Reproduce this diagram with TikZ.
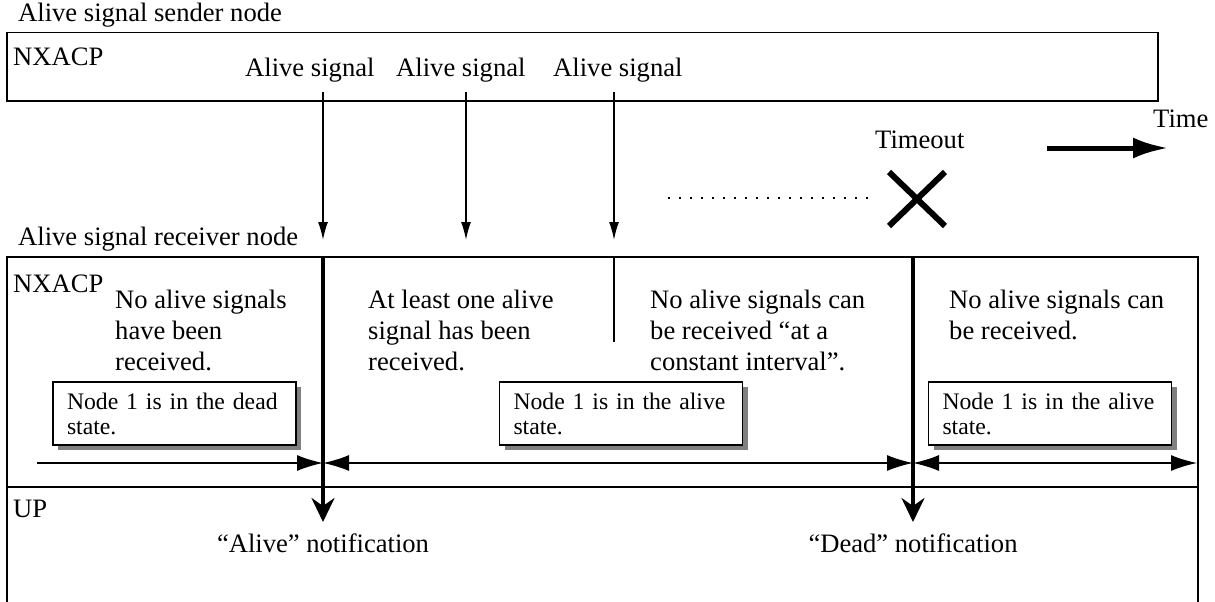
\documentclass[tikz,border=0pt]{standalone}
\usepackage{fontspec}
\setmainfont{Liberation Serif}
\usetikzlibrary{arrows.meta,positioning,shadows,shapes.misc}

\begin{document}
\begin{tikzpicture}[
    x=1pt, y=-1pt,
    txt/.style={inner sep=0pt, anchor=base west, font=\fontsize{26.6}{31}\selectfont},
    para/.style={txt, align=left},
    lane/.style={draw, line width=1.5pt, anchor=north west, inner sep=0pt},
    state/.style={draw, line width=1.5pt, fill=white, minimum width=243pt, minimum height=63pt, text width=215pt, align=left, inner xsep=14pt, inner ysep=0pt, font=\fontsize{23.7}{25}\selectfont, drop shadow={shadow xshift=5pt, shadow yshift=-5pt, fill=gray, opacity=1}},
    signal/.style={-{Latex[length=18pt, width=10pt]}, line width=1.5pt},
    span/.style={{Latex[length=26pt, width=16pt]}-{Latex[length=26pt, width=16pt]}, line width=1.5pt},
    notify/.style={-{Stealth[length=24pt, width=23pt, inset=8pt]}, line width=3.5pt}
]
    \useasboundingbox (0,0) rectangle (1215,602);

    \node[lane, minimum width=1151pt, minimum height=68pt] (sender) at (6,32) {};
    \node[lane, minimum width=1191pt, minimum height=346pt] (receiver) at (6,256) {};
    \coordinate (upline) at (6,487);
    \draw[line width=1.5pt] (upline) -- (upline -| receiver.east);

    \node[txt] (sendlbl) at (18,22) {Alive signal sender node};
    \node[txt] (sendnx) at (13,66) {NXACP};
    \node[txt] (sig1) at (245,77) {Alive signal};
    \node[txt] (sig2) at (396,77) {Alive signal};
    \node[txt] (sig3) at (553,77) {Alive signal};
    \node[txt] (timelbl) at (1153,127) {Time};
    \node[txt] (tolbl) at (875,148) {Timeout};
    \node[txt] (recvlbl) at (18,245) {Alive signal receiver node};
    \node[txt] (recvnx) at (13,292) {NXACP};
    \node[txt] (uplbl) at (13,517) {UP};

    \node[para] (ph1) at (115,370) {No alive signals\\have been\\received.};
    \node[para] (ph2) at (368,370) {At least one alive\\signal has been\\received.};
    \node[para] (ph3) at (650,370) {No alive signals can\\be received “at a\\constant interval”.};
    \node[para] (ph4) at (949,339) {No alive signals can\\be received.};

    \node[state] (dead) at (174.5,413.5) {Node 1 is in the dead\\state.};
    \node[state] (alive1) at (621,413.5) {Node 1 is in the alive\\state.};
    \node[state] (alive2) at (1050,413.5) {Node 1 is in the alive\\state.};

    \node[txt, anchor=base] (alivenote) at (323,552) {“Alive” notification};
    \node[txt, anchor=base] (deadnote) at (913,552) {“Dead” notification};

    \coordinate (a1) at (323,92);
    \coordinate (a2) at (466,92);
    \coordinate (a3) at (614,92);
    \coordinate (r1) at (323,240);
    \coordinate (r2) at (466,240);
    \coordinate (r3) at (614,240);
    \draw[signal] (a1) -- (r1);
    \draw[signal] (a2) -- (r2);
    \draw[signal] (a3) -- (r3);

    \coordinate (t1) at (323,256);
    \coordinate (t2) at (614,256);
    \coordinate (t3) at (913,256);
    \coordinate (n1) at (323,522);
    \coordinate (n3) at (913,522);
    \coordinate (t2end) at (614,342);
    \draw[notify] (t1) -- (n1);
    \draw[notify] (t3) -- (n3);
    \draw[line width=1.5pt] (t2) -- (t2end);

    \coordinate (s0) at (37,463);
    \coordinate (s1) at (323,463);
    \coordinate (s2) at (913,463);
    \coordinate (s3) at (1197,463);
    \draw[-{Latex[length=26pt, width=16pt]}, line width=1.5pt] (s0) -- (s1);
    \draw[span] (s1) -- (s2);
    \draw[span] (s2) -- (s3);

    \coordinate (tstart) at (1047,148);
    \coordinate (tend) at (1168,148);
    \draw[line width=5pt, -{Latex[length=35pt, width=21pt]}] (tstart) -- (tend);

    \node[draw, cross out, line width=6pt, minimum width=50pt, minimum height=48pt, inner sep=0pt] (xmark) at (917,199) {};
    \coordinate (dots) at (668,198);
    \coordinate (dotsend) at (875,198);
    \draw[line width=2pt, dash pattern=on 2pt off 9pt] (dots) -- (dotsend);
\end{tikzpicture}
\end{document}
